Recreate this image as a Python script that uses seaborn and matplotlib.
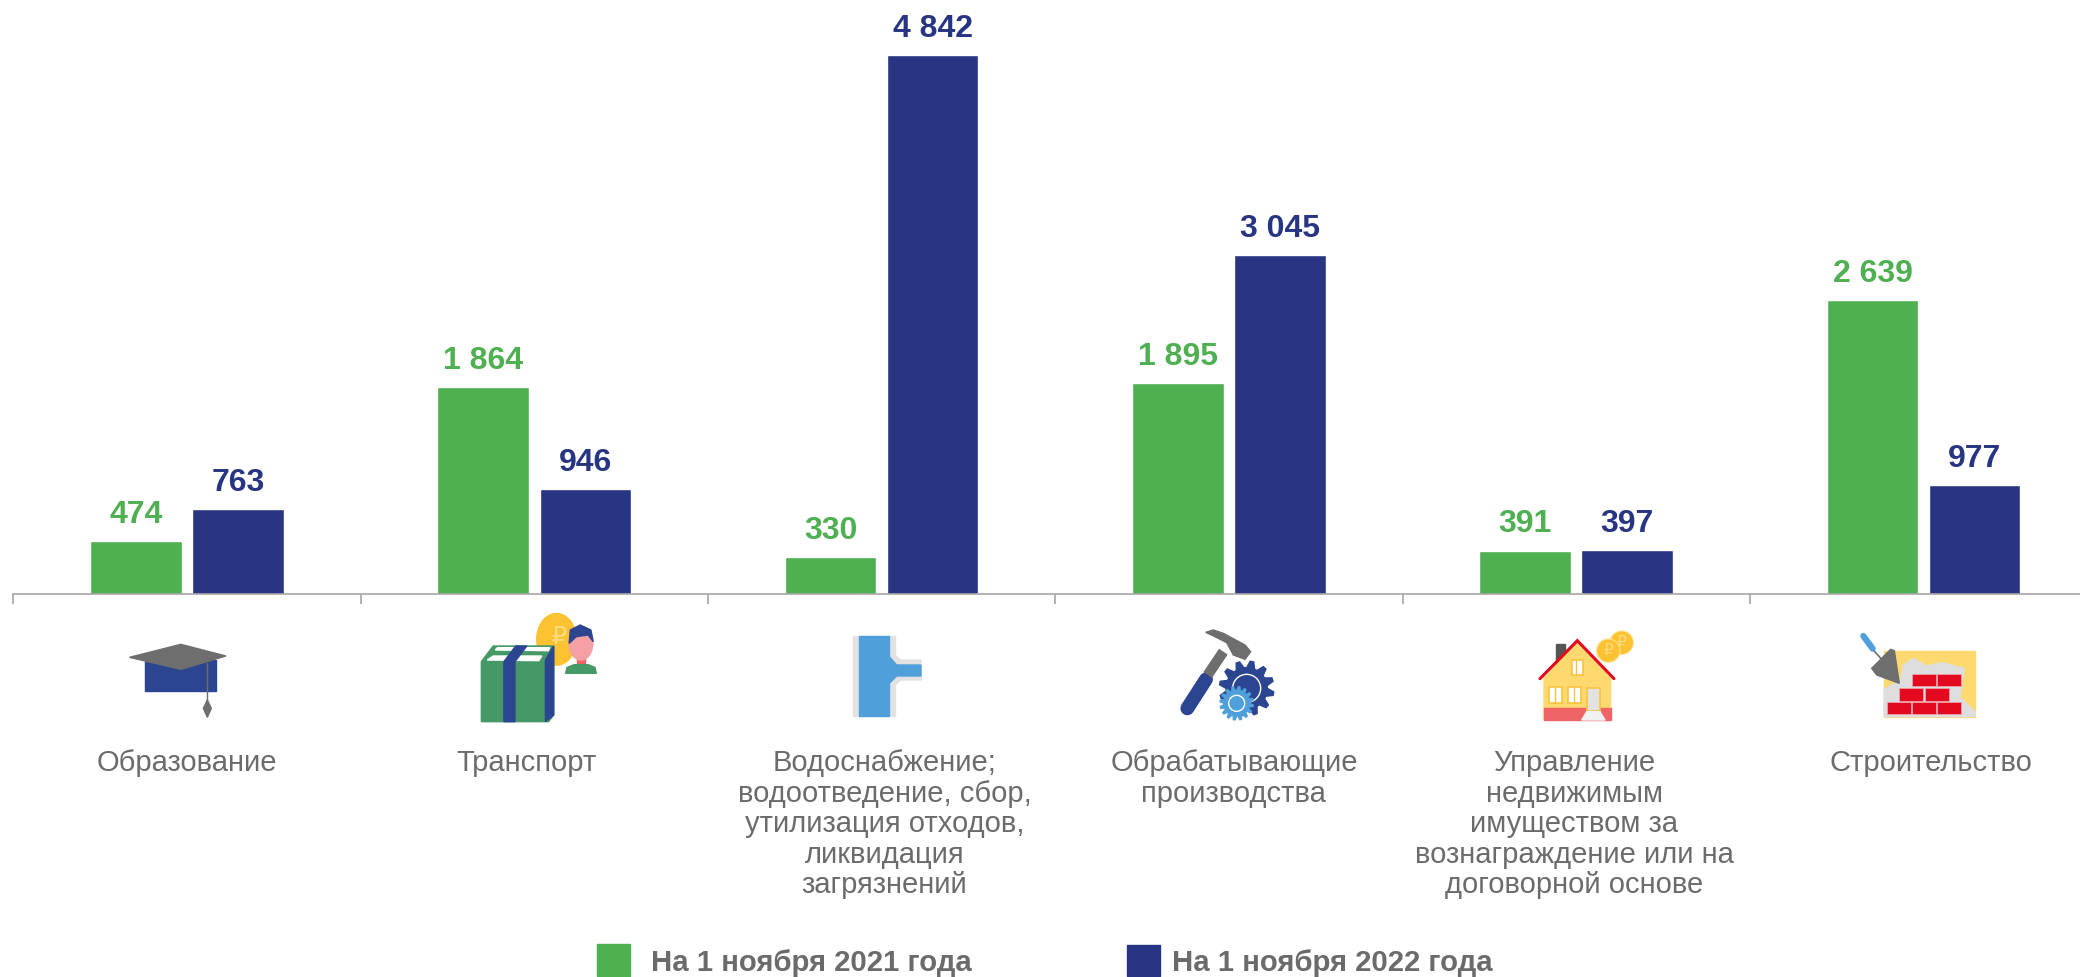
import numpy as np
import pandas as pd
import matplotlib
matplotlib.use('Agg')
import matplotlib.pyplot as plt
import seaborn as sns
from matplotlib.patches import Polygon, Rectangle, Ellipse, Circle
from matplotlib.transforms import Affine2D

# data
categories = ['Образование', 'Транспорт',
              'Водоснабжение;\nводоотведение, сбор,\nутилизация отходов,\nликвидация\nзагрязнений',
              'Обрабатывающие\nпроизводства',
              'Управление\nнедвижимым\nимуществом за\nвознаграждение или на\nдоговорной основе',
              'Строительство']
periods = ['На 1 ноября 2021 года', 'На 1 ноября 2022 года']
values_2021 = [474, 1864, 330, 1895, 391, 2639]
values_2022 = [763, 946, 4842, 3045, 397, 977]

GREEN = '#4FB052'
BLUE = '#283583'
GREY = '#6B6B6B'
ICON_BLUE = '#2B4590'
ICON_GREY = '#6E6E6E'
LIGHT = '#E2E2E2'
SKY = '#4F9FDB'
GOLD = '#FCC232'
SAND = '#FDD96F'
RED = '#E30A20'

df = pd.DataFrame({
    'cat': categories * 2,
    'period': [periods[0]] * 6 + [periods[1]] * 6,
    'value': values_2021 + values_2022,
})

sns.set_theme(style='white')
plt.rcParams['font.family'] = ['Liberation Sans', 'DejaVu Sans']

fig = plt.figure(figsize=(20.8, 9.77), dpi=100)
ax = fig.add_axes([0, 0, 1, 1])
ax.patch.set_alpha(0)

sns.barplot(data=df, x='cat', y='value', hue='period', palette=[GREEN, BLUE], saturation=1,
            width=0.588, gap=0.103, legend=False, ax=ax)

ax.set_xlabel('')
ax.set_ylabel('')
ax.set_yticks([])

# axis line with ticks between the groups
ax.set_xticks([])
ax.set_xticks(np.arange(-0.5, 6.5, 1), minor=True)
ax.set_xlim(-0.5384, 5.4505)
ax.set_ylim(-3443, 5340)
ax.tick_params(axis='x', which='minor', bottom=True, length=7, width=1.2, color='#A5A5A5')
sns.despine(ax=ax, left=True)
ax.spines['bottom'].set_position(('data', 0))
ax.spines['bottom'].set_color('#A5A5A5')
ax.spines['bottom'].set_linewidth(1.2)
ax.spines['bottom'].set_bounds(-0.5, 5.4505)

# value labels
for cont, vals, col in zip(ax.containers, [values_2021, values_2022], [GREEN, BLUE]):
    ax.bar_label(cont, labels=[f'{v:,}'.replace(',', ' ') for v in vals], padding=8,
                 color=col, fontsize=23, fontweight='bold')

# category labels
label_shift = [0, -8, 3, 5, -2, 7]
for i, name in enumerate(categories):
    ax.annotate(name, (i, 0), xytext=(label_shift[i], -155), textcoords='offset pixels',
                ha='center', va='top', color=GREY, fontsize=21, linespacing=1.115)

# overlay in picture pixels for the icons and the legend
ovl = fig.add_axes([0, 0, 1, 1], zorder=3)
ovl.set_xlim(0, 2080)
ovl.set_ylim(977, 0)
ovl.axis('off')


def frame(ox, oy, sx, sy):
    return Affine2D().scale(1 / sx, 1 / sy).translate(ox, oy) + ovl.transData


def gear(cx, cy, r_out, r_in, teeth):
    a = np.linspace(0, 2 * np.pi, teeth * 4, endpoint=False)
    r = np.tile([r_in, r_out, r_out, r_in], teeth)
    return np.column_stack([cx + r * np.cos(a), cy + r * np.sin(a)])


# graduation cap
t = frame(80, 580, 2.529, 3)
ovl.add_patch(Rectangle((165, 240), 180, 93, color=ICON_BLUE, transform=t))
ovl.add_patch(Polygon([(125, 232), (255, 193), (369, 228), (255, 268)], color=ICON_GREY, transform=t))
ovl.plot([322, 322], [250, 365], color=ICON_GREY, lw=1, transform=t)
ovl.add_patch(Polygon([(322, 360), (332, 385), (322, 412), (312, 385)], color=ICON_GREY, transform=t))

# parcel, coin and person
ovl.add_patch(Ellipse((1205, 178), 100, 155, color=GOLD, transform=t))
ovl.text(1210, 170, '₽', color='#FDDC80', fontsize=17, ha='center', va='center',
         family='DejaVu Sans', transform=t)
ovl.add_patch(Polygon([(1015, 245), (1045, 198), (1198, 198), (1198, 405), (1185, 425), (1015, 425)],
                      color='#459966', transform=t))
ovl.add_patch(Polygon([(1198, 198), (1198, 405), (1177, 425), (1177, 240)], color=ICON_BLUE, transform=t))
ovl.add_patch(Polygon([(1030, 240), (1045, 228), (1168, 228), (1160, 242)], color='white', transform=t))
ovl.add_patch(Polygon([(1050, 210), (1056, 203), (1188, 203), (1184, 212)], color='white', transform=t))
ovl.add_patch(Polygon([(1072, 245), (1102, 198), (1130, 198), (1100, 245), (1100, 425), (1072, 425)],
                      color=ICON_BLUE, transform=t))
ovl.add_patch(Rectangle((1257, 230), 20, 20, color='#EF6467', transform=t))
ovl.add_patch(Ellipse((1267, 190), 60, 100, color='#F5A0A5', transform=t))
ovl.add_patch(Polygon([(1237, 190), (1240, 150), (1265, 135), (1292, 150), (1298, 185), (1285, 165),
                       (1255, 170)], color=ICON_BLUE, transform=t))
ovl.add_patch(Polygon([(1228, 280), (1232, 262), (1250, 254), (1285, 254), (1302, 262), (1306, 280)],
                      color='#459966', transform=t))

# pipe
t = frame(780, 600, 3, 3)
ovl.add_patch(Rectangle((220, 108), 125, 240, color=LIGHT, transform=t))
ovl.add_patch(Polygon([(345, 165), (362, 180), (423, 180), (423, 240), (362, 240), (345, 255)],
                      color=LIGHT, transform=t))
ovl.add_patch(Rectangle((238, 108), 90, 240, color=SKY, transform=t))
ovl.add_patch(Polygon([(328, 170), (350, 195), (423, 195), (423, 228), (350, 228), (328, 250)],
                      color=SKY, transform=t))

# hammer and gears
ovl.plot([1222, 1278], [325, 238], color=ICON_BLUE, lw=10, solid_capstyle='round', transform=t)
ovl.plot([1283, 1330], [225, 155], color=ICON_GREY, lw=7.5, solid_capstyle='butt', transform=t)
ovl.add_patch(Polygon([(1277, 97), (1300, 90), (1330, 100), (1395, 135), (1412, 155), (1395, 178),
                       (1360, 165), (1340, 128), (1305, 110)], color=ICON_GREY, transform=t))
ovl.add_patch(Polygon(gear(1400, 265, 82, 62, 12), color=ICON_BLUE, transform=t))
ovl.add_patch(Circle((1400, 265), 42, fill=False, ec='white', lw=1, transform=t))
ovl.add_patch(Polygon(gear(1370, 310, 50, 38, 16), color=SKY, transform=t))
ovl.add_patch(Circle((1370, 310), 24, fill=False, ec='white', lw=1, transform=t))

# house
t = frame(1480, 600, 3, 3)
ovl.add_patch(Rectangle((228, 133), 27, 60, color='#555555', transform=t))
ovl.add_patch(Polygon([(192, 235), (290, 128), (392, 235), (392, 360), (192, 360)], color=SAND, transform=t))
ovl.add_patch(Rectangle((192, 323), 200, 37, color='#EF6467', transform=t))
ovl.plot([180, 292, 402], [236, 122, 236], color=RED, lw=2.2, solid_joinstyle='miter', transform=t)
for wx, wy, ww, wh in [(275, 180, 33, 45), (208, 262, 37, 48), (265, 262, 37, 48)]:
    ovl.add_patch(Rectangle((wx, wy), ww, wh, fc='white', ec='#FBC33D', lw=1.2, transform=t))
    ovl.plot([wx + ww * 0.42] * 2, [wy, wy + wh], color='#FBC33D', lw=1, transform=t)
ovl.add_patch(Rectangle((322, 263), 38, 69, fc=LIGHT, ec='#FBC33D', lw=1.2, transform=t))
ovl.add_patch(Polygon([(305, 360), (320, 335), (360, 335), (375, 360)], color='#F1F1F1', transform=t))
for cx, cy in [(425, 128), (385, 152)]:
    ovl.add_patch(Circle((cx, cy), 35, fc=GOLD, ec='#FDE08E', lw=0.8, transform=t))
    ovl.text(cx, cy, '₽', color='#FDDC80', fontsize=11, ha='center', va='center',
             family='DejaVu Sans', transform=t)

# brick wall and trowel
ovl.add_patch(Rectangle((1212, 152), 273, 198, color=SAND, transform=t))
ovl.add_patch(Polygon([(1212, 350), (1485, 350), (1485, 335), (1440, 292), (1445, 258), (1452, 205),
                       (1385, 188), (1340, 198), (1300, 175), (1270, 195), (1262, 240), (1212, 268)],
                      color='#DEDEDE', transform=t))
for bx, by in [(1295, 222), (1371, 222), (1258, 265), (1334, 265), (1220, 306), (1295, 306), (1371, 306)]:
    ovl.add_patch(Rectangle((bx, by), 72, 37, fc=RED, ec='#EFA0A8', lw=0.6, transform=t))
ovl.plot([1178, 1205], [148, 178], color=ICON_GREY, lw=1.2, transform=t)
ovl.plot([1150, 1178], [108, 146], color=SKY, lw=4.5, solid_capstyle='round', transform=t)
ovl.add_patch(Polygon([(1175, 205), (1232, 148), (1243, 152), (1258, 250), (1190, 225)],
                      color=ICON_GREY, transform=t))

# legend
ovl.add_patch(Rectangle((597, 944), 33, 32, color=GREEN))
ovl.add_patch(Rectangle((1127, 945), 33, 31, color=BLUE))
ovl.text(651, 963, periods[0], color=GREY, fontsize=21.2, fontweight='bold', ha='left', va='center')
ovl.text(1172, 963, periods[1], color=GREY, fontsize=21.2, fontweight='bold', ha='left', va='center')

fig.savefig('out.png', dpi=100)
